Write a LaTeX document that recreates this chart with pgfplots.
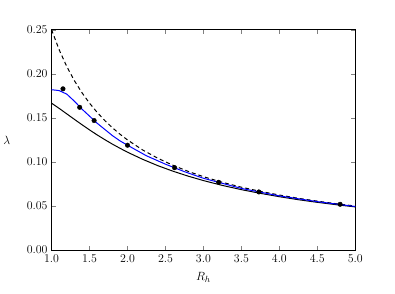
\documentclass[border=0pt]{standalone}
\usepackage{pgfplots}
\pgfplotsset{compat=1.18}
\begin{document}
\begin{tikzpicture}
\begin{axis}[
  at={(0,0)}, anchor=south west,
  scale only axis, width=306pt, height=222pt,
  xmin=1, xmax=5, ymin=0, ymax=0.25,
  xtick={1,1.5,...,5}, ytick={0,0.05,...,0.25},
  xticklabel style={yshift=-1.5pt,/pgf/number format/.cd,fixed,fixed zerofill,precision=1},
  yticklabel style={xshift=-0.5pt,/pgf/number format/.cd,fixed,fixed zerofill,precision=2},
  scaled y ticks=false,
  tick align=inside, tick pos=both,
  major tick length=4pt,
  tick label style={font=\fontsize{12.5}{14}\selectfont},
  label style={font=\fontsize{12.5}{14}\selectfont},
  xlabel={$R_h$}, ylabel={$\lambda$},
  ylabel style={rotate=-90, at={(axis description cs:-0.125,0.5)}},
  xlabel style={at={(axis description cs:0.5,-0.085)}},
  axis line style={line width=0.8pt},
]
\addplot[black, line width=1pt, dash pattern=on 4pt off 3pt] coordinates {
(1.0,0.2500)(1.1,0.2273)(1.2,0.2083)(1.3,0.1923)(1.4,0.1786)(1.5,0.1667)(1.6,0.1563)(1.7,0.1471)(1.8,0.1389)(1.9,0.1316)(2.0,0.1250)(2.2,0.1136)(2.4,0.1042)(2.6,0.0962)(2.8,0.0893)(3.0,0.0833)(3.25,0.0769)(3.5,0.0714)(3.75,0.0667)(4.0,0.0625)(4.25,0.0588)(4.5,0.0556)(4.75,0.0526)(5.0,0.0500)};
\addplot[black, line width=1pt] coordinates {
(1.0,0.1667)(1.1,0.1608)(1.2,0.1546)(1.3,0.1484)(1.4,0.1423)(1.5,0.1364)(1.6,0.1307)(1.7,0.1254)(1.8,0.1203)(1.9,0.1156)(2.0,0.1111)(2.2,0.1030)(2.4,0.0958)(2.6,0.0895)(2.8,0.0839)(3.0,0.0789)(3.25,0.0734)(3.5,0.0686)(3.75,0.0644)(4.0,0.0606)(4.25,0.0572)(4.5,0.0542)(4.75,0.0515)(5.0,0.0490)};
\addplot[blue, line width=1pt] coordinates {
(1.0,0.182)(1.1,0.181)(1.2,0.177)(1.3,0.169)(1.4,0.160)(1.5,0.152)(1.6,0.144)(1.7,0.137)(1.8,0.130)(1.9,0.124)(2.0,0.119)(2.25,0.107)(2.5,0.0975)(2.75,0.0890)(3.0,0.0815)(3.5,0.0700)(4.0,0.0615)(4.5,0.0550)(5.0,0.0495)};
\addplot[only marks, mark=*, mark size=2.3pt, black] coordinates {
(1.15,0.183)(1.37,0.162)(1.56,0.147)(2.0,0.119)(2.62,0.0935)(3.2,0.077)(3.73,0.066)(4.8,0.052)};
\end{axis}
\path[use as bounding box] (-49pt,-44pt) rectangle (346pt,252pt);
\end{tikzpicture}
\end{document}
